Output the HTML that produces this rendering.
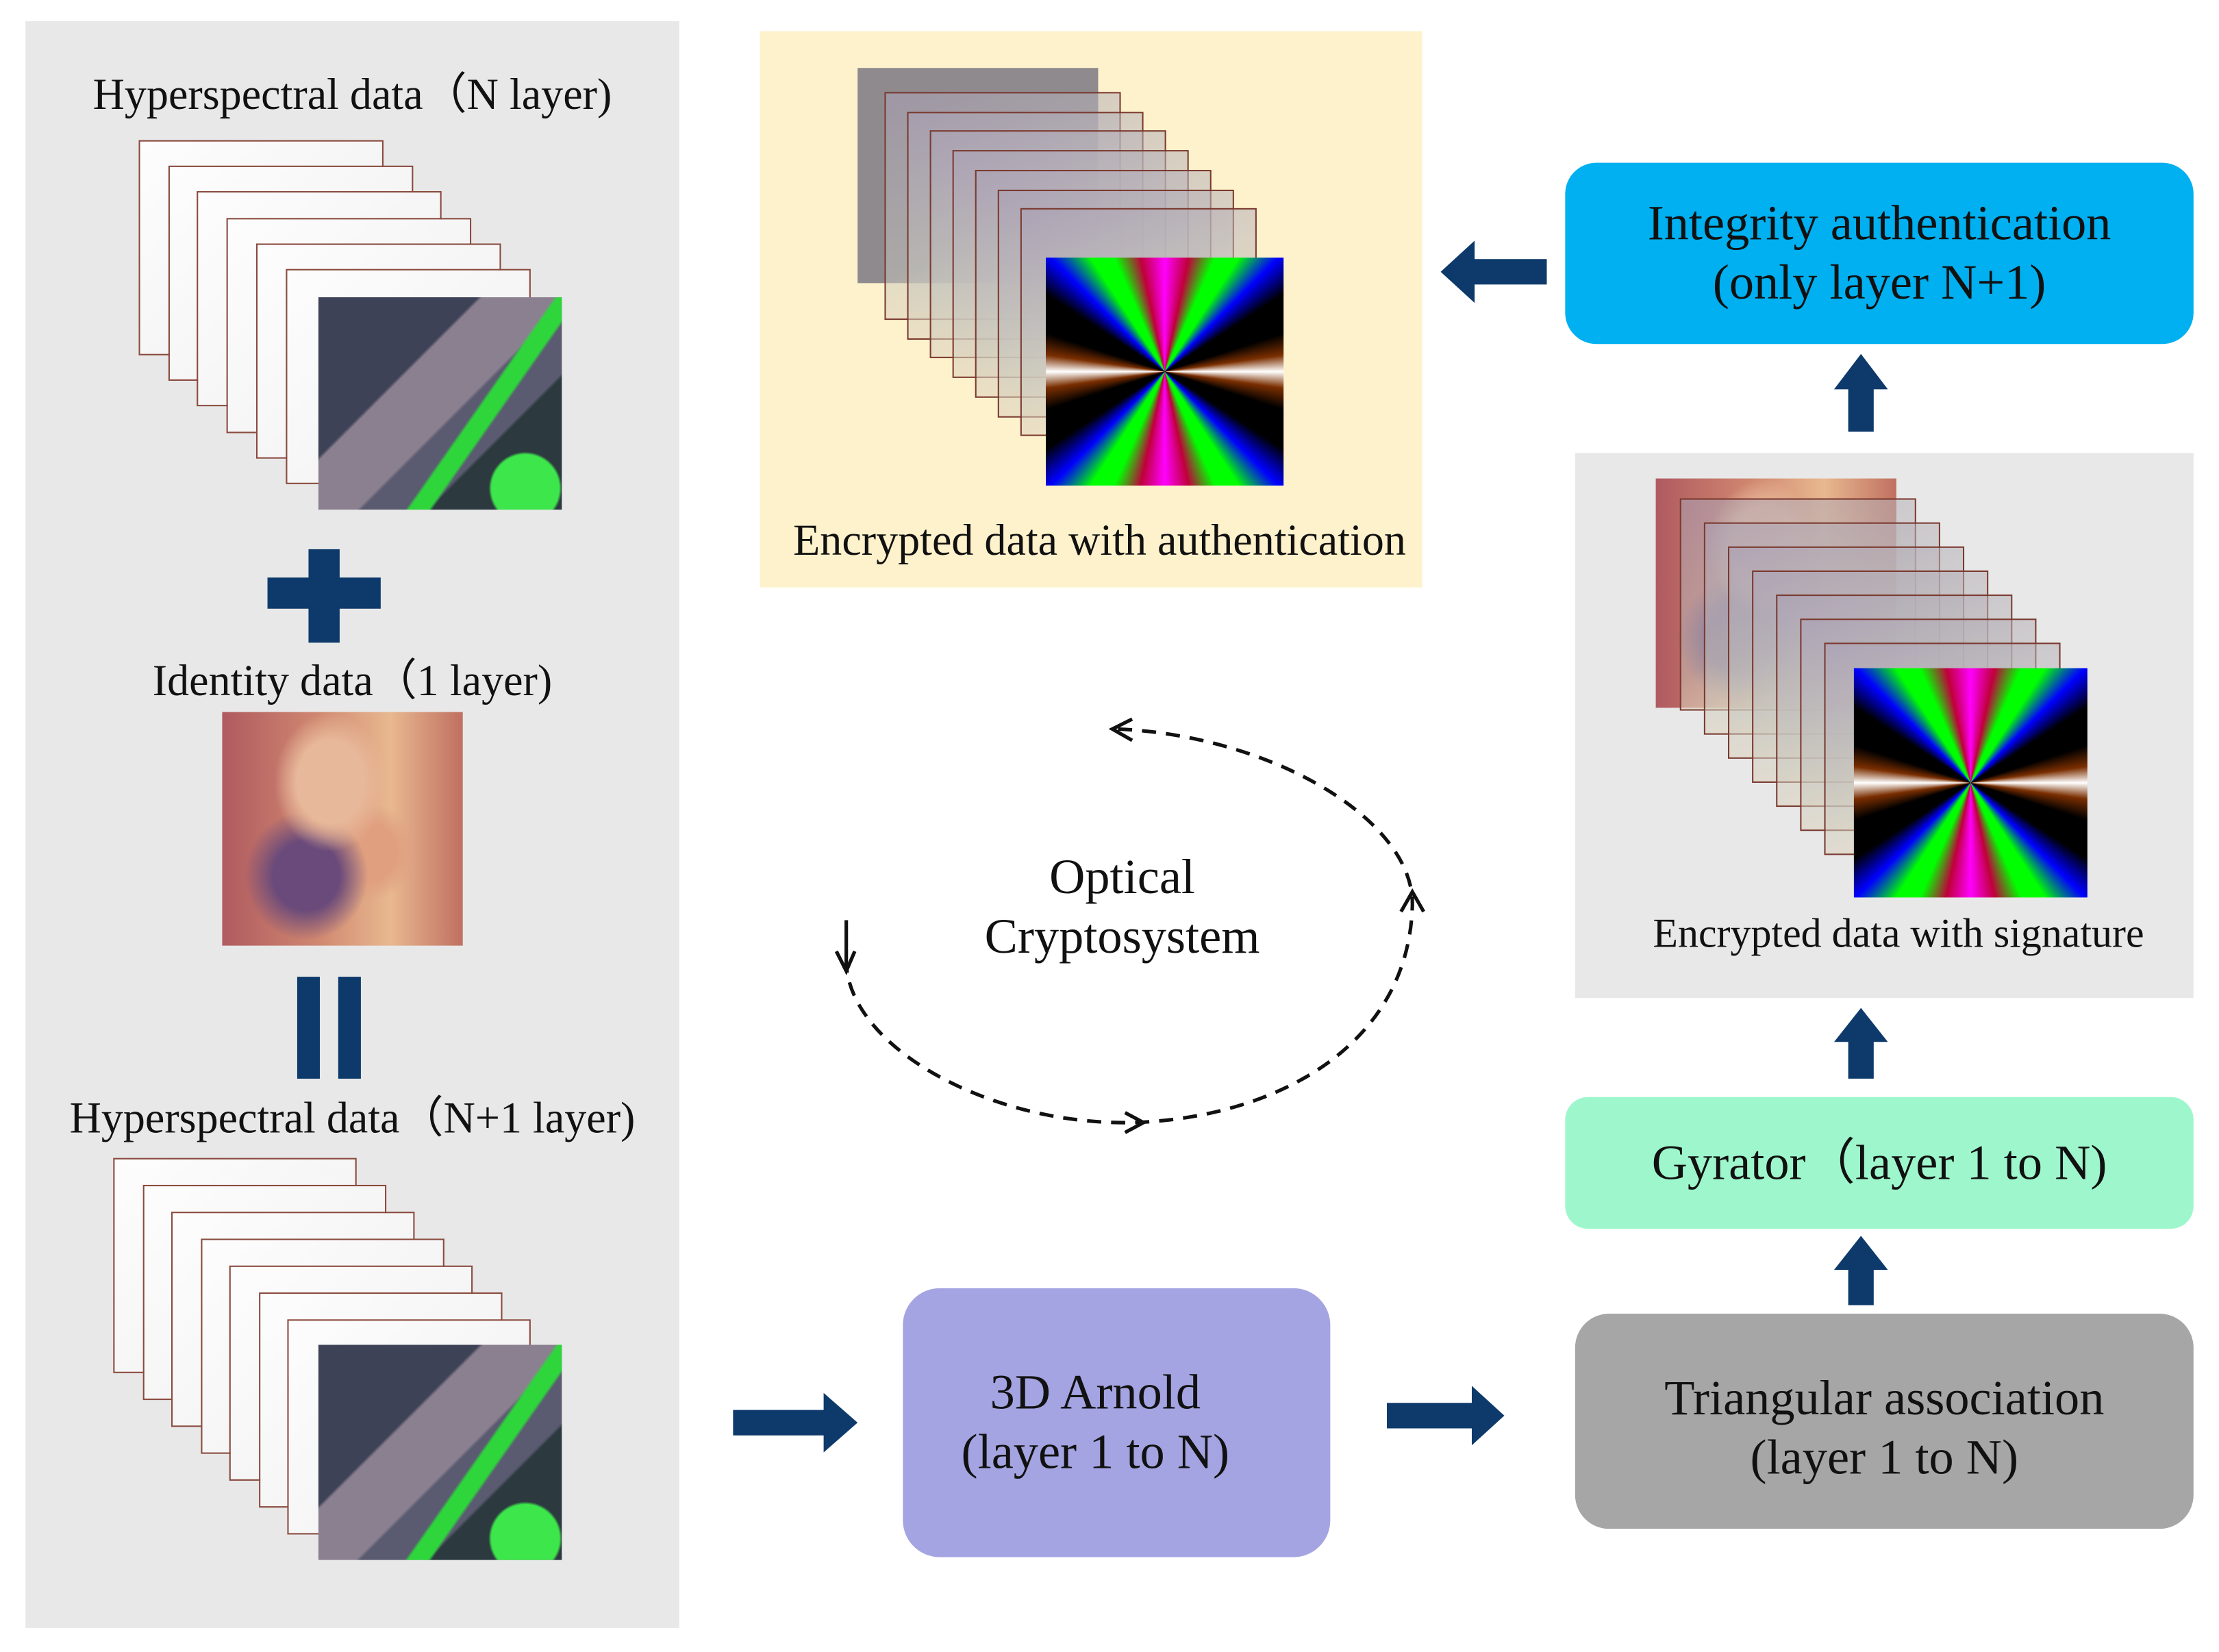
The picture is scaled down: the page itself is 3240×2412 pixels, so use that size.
<!DOCTYPE html>
<html><head><meta charset="utf-8"><style>
html,body{margin:0;padding:0;background:#fff;width:3240px;height:2412px;overflow:hidden}
#w{position:absolute;left:0;top:0;width:1568px;height:1167px;transform-origin:0 0;transform:scale(2.06633,2.06684);font-family:"Liberation Serif",serif;color:#111}
.a{position:absolute}
.t{position:absolute;white-space:nowrap;text-align:center;font-size:31px;line-height:34px}
.fr{position:absolute;border:1.5px solid #8a4a3e;background:linear-gradient(135deg,#fdfdfd,#f2f2f2 80%,#e6e6e6);box-sizing:border-box}
.ef{position:absolute;border:1.5px solid #7a3a30;box-sizing:border-box;background:linear-gradient(160deg,rgba(170,160,180,.6),rgba(200,200,190,.5) 60%,rgba(250,225,190,.8))}
.aer{position:absolute;background:
radial-gradient(circle at 85% 90%,#3de64a 0 12%,transparent 13%),
linear-gradient(125deg,transparent 60%,#2ed63c 61% 66%,transparent 67%),
linear-gradient(135deg,#3e4256 0 35%,#8a8090 36% 55%,#5a5a70 56% 70%,#2c3a40 71%)}
.lena{position:absolute;background:
radial-gradient(ellipse at 45% 30%,#e8b89a 0 18%,transparent 30%),
radial-gradient(ellipse at 35% 70%,#6a4a7a 0 15%,transparent 28%),
radial-gradient(ellipse at 60% 60%,#e0a080 0 15%,transparent 25%),
linear-gradient(90deg,#b05a60,#d08870 40%,#e8b890 70%,#c07060)}
.cw{position:absolute;background:conic-gradient(#ff00ff 0deg,#c0003a 12deg,#00ff00 24deg,#00ff00 33deg,#0000ff 45deg,#000 57deg,#000 72deg,#7a2e00 82deg,#fff 90deg,#7a2e00 98deg,#000 108deg,#000 123deg,#0000ff 135deg,#00ff00 147deg,#00ff00 156deg,#c0003a 168deg,#ff00ff 180deg,#c0003a 192deg,#00ff00 204deg,#00ff00 213deg,#0000ff 225deg,#000 237deg,#000 252deg,#7a2e00 262deg,#fff 270deg,#7a2e00 278deg,#000 288deg,#000 303deg,#0000ff 315deg,#00ff00 327deg,#00ff00 336deg,#c0003a 348deg,#ff00ff 360deg)}
.box{position:absolute;display:flex;align-items:center;justify-content:center;text-align:center;font-size:35px;line-height:42px;box-sizing:border-box}
</style></head><body><div id="w">
<div class="a" style="left:18px;top:15px;width:462px;height:1135px;background:#e8e8e8"></div>
<div class="t" style="left:18px;width:462px;top:50px">Hyperspectral data（N layer)</div>
<div id="s1"></div>
<div class="aer" style="left:225px;top:210px;width:172px;height:150px"></div>
<div class="a" style="left:189px;top:408px;width:80px;height:22px;background:#0d3a6b"></div>
<div class="a" style="left:218px;top:388px;width:22px;height:66px;background:#0d3a6b"></div>
<div class="t" style="left:18px;width:462px;top:464px">Identity data（1 layer)</div>
<div class="lena" style="left:157px;top:503px;width:170px;height:165px"></div>
<div class="a" style="left:210px;top:690px;width:16px;height:72px;background:#0d3a6b"></div>
<div class="a" style="left:239px;top:690px;width:16px;height:72px;background:#0d3a6b"></div>
<div class="t" style="left:18px;width:462px;top:773px">Hyperspectral data（N+1 layer)</div>
<div id="s2"></div>
<div class="aer" style="left:225px;top:950px;width:172px;height:152px"></div>

<div class="a" style="left:537px;top:22px;width:468px;height:393px;background:#fef2cc"></div>
<div class="a" style="left:606px;top:48px;width:170px;height:152px;background:#8e8a8e"></div>
<div id="s3"></div>
<div class="cw" style="left:739px;top:182px;width:168px;height:161px"></div>
<div class="t" style="left:537px;width:480px;top:365px">Encrypted data with authentication</div>

<div class="box" style="left:1106px;top:115px;width:444px;height:128px;background:#00b0f0;border-radius:22px">Integrity authentication<br>(only layer N+1)</div>
<div class="a" style="left:1113px;top:320px;width:437px;height:385px;background:#e8e8e8"></div>
<div class="lena" style="left:1170px;top:338px;width:170px;height:162px"></div>
<div id="s4"></div>
<div class="cw" style="left:1310px;top:472px;width:165px;height:162px"></div>
<div class="t" style="left:1113px;width:457px;top:643px;font-size:29px">Encrypted data with signature</div>
<div class="box" style="left:1106px;top:775px;width:444px;height:93px;background:#9ef7cc;border-radius:16px">Gyrator（layer 1 to N)</div>
<div class="box" style="left:1113px;top:928px;width:437px;height:152px;background:#a6a6a6;border-radius:24px;padding-top:10px">Triangular association<br>(layer 1 to N)</div>
<div class="box" style="left:638px;top:910px;width:302px;height:190px;background:#a4a4e2;border-radius:26px;padding-right:30px">3D Arnold<br>(layer 1 to N)</div>
<div class="t" style="left:680px;width:226px;top:599px;font-size:35px;line-height:42px">Optical<br>Cryptosystem</div>

<svg class="a" style="left:0;top:0" width="1568" height="1167" viewBox="0 0 1568 1167">
<g fill="#0d3a6b">
<polygon points="1093,183 1042,183 1042,170 1018,192 1042,214 1042,201 1093,201"/>
<polygon points="1306,305 1306,275 1296,275 1315,250 1334,275 1324,275 1324,305"/>
<polygon points="1306,762 1306,736 1296,736 1315,712 1334,736 1324,736 1324,762"/>
<polygon points="1306,922 1306,897 1296,897 1315,873 1334,897 1324,897 1324,922"/>
<polygon points="518,996 582,996 582,984 606,1005 582,1026 582,1014 518,1014"/>
<polygon points="980,991 1040,991 1040,979 1063,1000 1040,1021 1040,1009 980,1009"/>
</g>
<g fill="none" stroke="#111" stroke-width="2.5" stroke-dasharray="10,7">
<path d="M790,515 C900,520 1000,580 998,640 C995,740 900,790 800,793 C700,795 600,740 598,680"/>
</g>
<g fill="none" stroke="#111" stroke-width="2.5">
<path d="M800,508 L786,515 L800,523"/><path d="M795,786 L808,793 L795,800"/>
<path d="M990,644 L998,630 L1006,644"/><path d="M591,672 L598,686 L604,672"/><path d="M598,650 L598,686"/>
</g>
</svg>
</div>
<script>
function st(id,cls,x,y,w,h,dx,dy,n){var s='';for(var i=0;i<n;i++)s+='<div class="'+cls+'" style="left:'+(x+i*dx)+'px;top:'+(y+i*dy)+'px;width:'+w+'px;height:'+h+'px"></div>';document.getElementById(id).innerHTML=s;}
st('s1','fr',98,99,173,152,20.7,18.2,6);
st('s2','fr',80,818,172,152,20.5,19,7);
st('s3','ef',625,65,167,161,16,13.7,7);
st('s4','ef',1187,352,167,150,17,17,7);
</script>
</body></html>
